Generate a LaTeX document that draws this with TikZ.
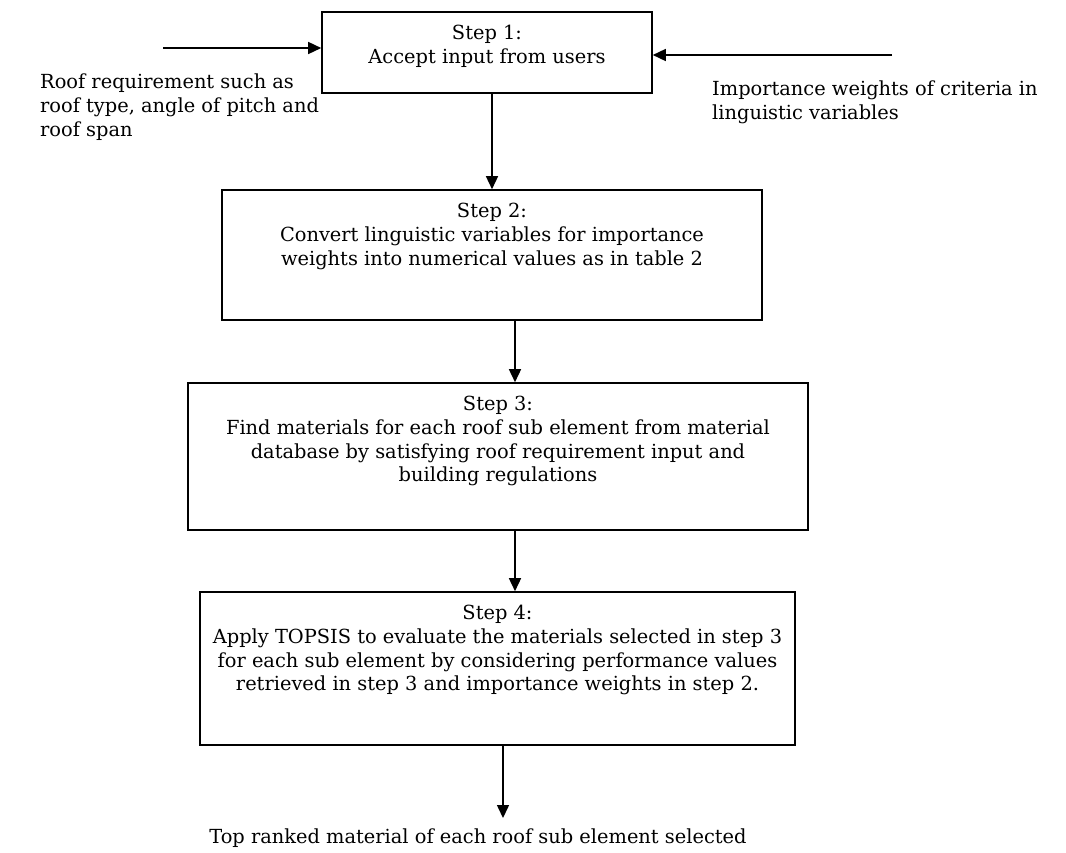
\documentclass[tikz,border=0pt]{standalone}
\usepackage{fontspec}
\setmainfont{DejaVu Serif}
\usetikzlibrary{arrows.meta,positioning}
\begin{document}
\begin{tikzpicture}[x=1pt,y=-1pt,
  every node/.style={font=\fontsize{19.4}{23.6}\selectfont},
  stepbox/.style={draw,line width=1.6pt,inner sep=0pt},
  boxtext/.style={align=center,inner sep=0pt,anchor=north},
  lbl/.style={align=left,inner sep=0pt,anchor=north west},
  arr/.style={line width=1.5pt,-{Triangle[length=13pt,width=12pt]}}]
\fill[white] (0,0) rectangle (1066,852);
\useasboundingbox (0,0) rectangle (1066,852);
% boxes
\node[stepbox,minimum width=330pt,minimum height=81pt] (b1) at (487,52.5) {};
\node[stepbox,minimum width=540pt,minimum height=130pt] (b2) at (492,255) {};
\node[stepbox,minimum width=620pt,minimum height=147pt] (b3) at (498,456.5) {};
\node[stepbox,minimum width=595pt,minimum height=153pt] (b4) at (497.5,668.5) {};
% box texts
\node[boxtext,below=14pt of b1.north] (t1) {Step 1:\\Accept input from users};
\node[boxtext,below=14pt of b2.north] (t2) {Step 2:\\Convert linguistic variables for importance\\weights into numerical values as in table 2};
\node[boxtext,below=14pt of b3.north] (t3) {Step 3:\\Find materials for each roof sub element from material\\database by satisfying roof requirement input and\\building regulations};
\node[boxtext,below=14pt of b4.north] (t4) {Step 4:\\Apply TOPSIS to evaluate the materials selected in step 3\\for each sub element by considering performance values\\retrieved in step 3 and importance weights in step 2.};
% side labels
\node[lbl] (inl) at (40,74) {Roof requirement such as\\roof type, angle of pitch and\\roof span};
\node[lbl] (inr) at (712,81) {Importance weights of criteria in\\linguistic variables};
\node[inner sep=0pt,anchor=north] (out) at (478,829) {Top ranked material of each roof sub element selected};
% coordinates
\coordinate (sl) at (163,48);
\coordinate (sr) at (892,55);
\coordinate (xa) at (492,0);
\coordinate (xb) at (515,0);
\coordinate (oe) at (503,818);
% connectors
\draw[arr] (sl) -- (sl -| b1.west);
\draw[arr] (sr) -- (sr -| b1.east);
\draw[arr] (b1.south -| xa) -- (b2.north -| xa);
\draw[arr] (b2.south -| xb) -- (b3.north -| xb);
\draw[arr] (b3.south -| xb) -- (b4.north -| xb);
\draw[arr] (b4.south -| oe) -- (oe);
\end{tikzpicture}
\end{document}
